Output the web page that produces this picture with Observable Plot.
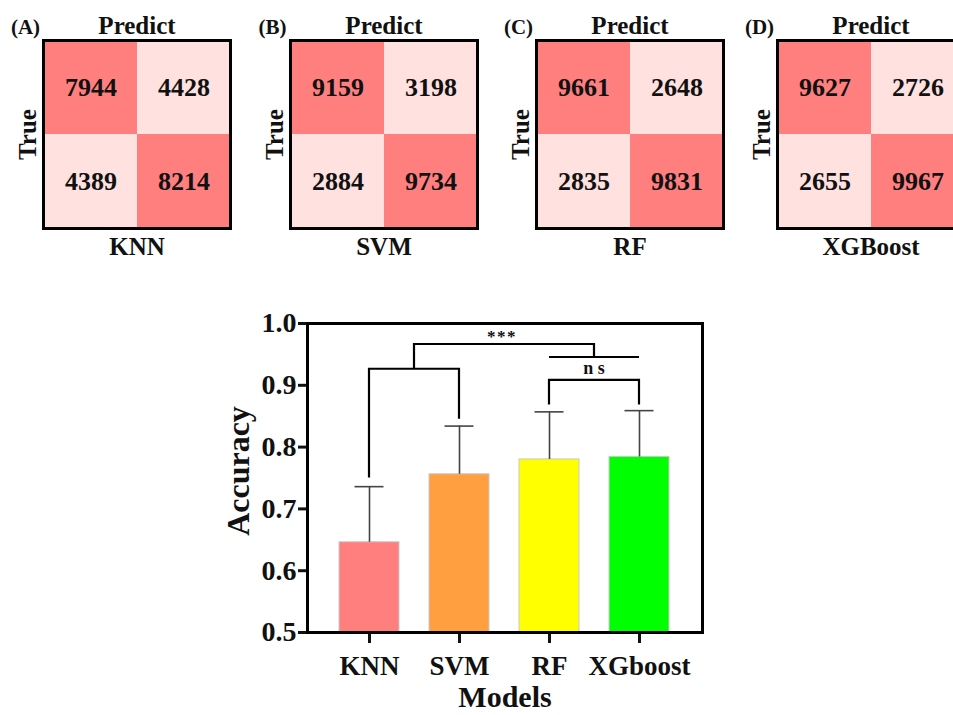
<!DOCTYPE html>
<html>
<head>
<meta charset="utf-8">
<script src="https://cdn.jsdelivr.net/npm/d3@7"></script>
<script src="https://cdn.jsdelivr.net/npm/@observablehq/plot@0.6"></script>
<style>
  html, body { margin: 0; padding: 0; background: #fff; overflow: hidden; }
  #wrap { position: relative; width: 953px; height: 715px; overflow: hidden; }
  #wrap > svg, #wrap > figure { position: absolute; margin: 0; }
  #wrap svg, #wrap svg text { font-family: "Liberation Serif", "Times New Roman", serif !important; font-weight: bold; }
</style>
</head>
<body>
<div id="wrap"></div>
<script>
// ---------- data ----------
const panelLetters = ["(A)", "(B)", "(C)", "(D)"];
const cmModels = ["KNN", "SVM", "RF", "XGBoost"];
const cmKNN = [[7944, 4428], [4389, 8214]];
const cmSVM = [[9159, 3198], [2884, 9734]];
const cmRF  = [[9661, 2648], [2835, 9831]];
const cmXGB = [[9627, 2726], [2655, 9967]];
const cmMatrices = [cmKNN, cmSVM, cmRF, cmXGB];

const barModels = ["KNN", "SVM", "RF", "XGboost"];
const accuracy  = [0.646, 0.756, 0.780, 0.784];
const accError  = [0.736, 0.834, 0.857, 0.859];   // top of error bar
const barColors = ["#FF7F7F", "#FF9F40", "#FFFF00", "#00FF00"];
const yTicks    = [0.5, 0.6, 0.7, 0.8, 0.9, 1.0];
const yMin = 0.5, yMax = 1.0;

// significance brackets (value units)
const pairBrackets = [
  {a: "KNN", b: "SVM", y: 0.926, ya: 0.750, yb: 0.845},
  {a: "RF", b: "XGboost", y: 0.908, ya: 0.868, yb: 0.868}
];
const groupLine = {a: "RF", b: "XGboost", y: 0.945};
const topBracket = {y: 0.966, yRight: 0.945};
const sigLabels = [{text: "***", y: 0.984}, {text: "n s", y: 0.926}];

const FONT = "Liberation Serif";
const DARK = "#FF7F7F", LIGHT = "#FFE1E0";
const wrap = document.getElementById("wrap");
const T = {fontFamily: FONT, fontWeight: "bold", fill: "#111", textAnchor: "middle", lineAnchor: "middle", text: d => d};

// ---------- confusion matrices ----------
const panelLeft = [0, 247, 493, 734];
cmMatrices.forEach((m, k) => {
  const cells = [];
  m.forEach((row, t) => row.forEach((v, p) => cells.push({t: String(t), p: String(p), v, diag: t === p})));
  const chart = Plot.plot({
    width: 245, height: 270,
    marginLeft: 43, marginRight: 15, marginTop: 40, marginBottom: 42,
    style: {fontFamily: FONT, fontWeight: "bold", background: "transparent"},
    x: {type: "band", domain: ["0", "1"], padding: 0, axis: null},
    y: {type: "band", domain: ["0", "1"], padding: 0, axis: null},
    marks: [
      Plot.cell(cells, {x: "p", y: "t", fill: d => d.diag ? DARK : LIGHT, inset: 0}),
      Plot.text(cells, {...T, x: "p", y: "t", text: d => String(d.v), fontSize: 26}),
      Plot.frame({stroke: "black", strokeWidth: 3}),
      Plot.text(["Predict"], {...T, frameAnchor: "top", dy: -15, fontSize: 25}),
      Plot.text([panelLetters[k]], {...T, frameAnchor: "top-left", dx: -18, dy: -13, fontSize: 21}),
      Plot.text(["True"], {...T, frameAnchor: "left", dx: -16, rotate: -90, fontSize: 25}),
      Plot.text([cmModels[k]], {...T, frameAnchor: "bottom", dy: 18, fontSize: 25})
    ]
  });
  chart.style.left = panelLeft[k] + "px";
  chart.style.top = "0px";
  wrap.appendChild(chart);
});

// ---------- bar chart ----------
const bars = barModels.map((model, i) => ({model, acc: accuracy[i], err: accError[i], color: barColors[i]}));

function bracketsMark(index, scales) {
  const {x, y} = scales;
  const bw = x.bandwidth ? x.bandwidth() : 0;
  const cx = m => x(m) + bw / 2;
  const g = d3.create("svg:g");
  const lines = g.append("g").attr("fill", "none").attr("stroke", "black").attr("stroke-width", 2.2);
  const path = pts => lines.append("path").attr("d", d3.line()(pts));
  pairBrackets.forEach(b => {
    path([[cx(b.a), y(b.ya)], [cx(b.a), y(b.y)], [cx(b.b), y(b.y)], [cx(b.b), y(b.yb)]]);
  });
  path([[cx(groupLine.a), y(groupLine.y)], [cx(groupLine.b), y(groupLine.y)]]);
  const m1 = (cx(pairBrackets[0].a) + cx(pairBrackets[0].b)) / 2;
  const m2 = (cx(groupLine.a) + cx(groupLine.b)) / 2;
  path([[m1, y(pairBrackets[0].y)], [m1, y(topBracket.y)], [m2, y(topBracket.y)], [m2, y(topBracket.yRight)]]);
  const texts = g.append("g").attr("font-family", FONT).attr("font-weight", "bold").attr("text-anchor", "middle").attr("fill", "#111");
  texts.append("text").attr("x", (m1 + m2) / 2 - 2).attr("y", y(sigLabels[0].y) + 9).attr("font-size", 17).attr("letter-spacing", 1.5).text(sigLabels[0].text);
  texts.append("text").attr("x", m2).attr("y", y(sigLabels[1].y) + 5).attr("font-size", 18).text(sigLabels[1].text);
  return g.node();
}

const bar = Plot.plot({
  width: 520, height: 415,
  marginLeft: 107, marginRight: 18, marginTop: 23, marginBottom: 83,
  style: {fontFamily: FONT, fontWeight: "bold", background: "transparent", color: "#111"},
  x: {type: "band", domain: barModels, paddingInner: 0.33, paddingOuter: 0.34},
  y: {domain: [yMin, yMax]},
  marks: [
    Plot.barY(bars, {x: "model", y1: yMin, y2: "acc", fill: "color", stroke: "#c9c9c9", strokeWidth: 1}),
    Plot.ruleX(bars, {x: "model", y1: "acc", y2: "err", stroke: "#444", strokeWidth: 1.6}),
    Plot.tickY(bars, {x: "model", y: "err", stroke: "#444", strokeWidth: 1.6, insetLeft: 15.5, insetRight: 15.5}),
    Plot.axisY({ticks: yTicks, tickFormat: d3.format(".1f"), tickSize: 9, tickPadding: 2, fontSize: 28, fontWeight: "bold", fontFamily: FONT, strokeWidth: 3, label: null}),
    Plot.axisX({tickSize: 11, tickPadding: 12, fontSize: 27, fontWeight: "bold", fontFamily: FONT, strokeWidth: 3, label: null}),
    Plot.frame({stroke: "black", strokeWidth: 3}),
    bracketsMark,
    Plot.text(["Accuracy"], {...T, frameAnchor: "left", dx: -69, dy: -7, rotate: -90, fontSize: 32}),
    Plot.text(["Models"], {...T, frameAnchor: "bottom", dy: 65, fontSize: 30})
  ]
});
bar.style.left = "200px";
bar.style.top = "300px";
wrap.appendChild(bar);
</script>
</body>
</html>
